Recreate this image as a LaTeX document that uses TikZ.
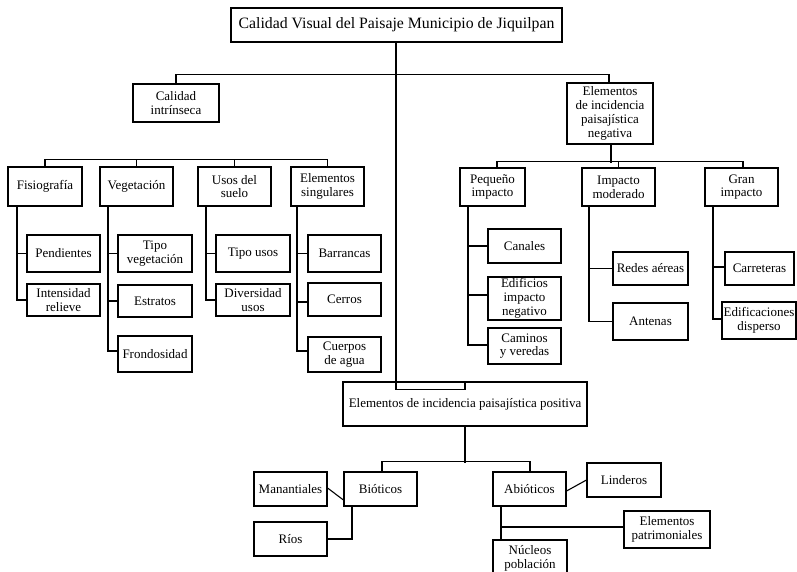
\documentclass[tikz,border=0pt]{standalone}
\usepackage{fontspec}
\setmainfont{Liberation Serif}
\begin{document}
\begin{tikzpicture}[x=1pt,y=-1pt,
  box/.style={draw, line width=1.1pt, inner sep=0pt, align=center,
    font=\fontsize{13}{13.8}\selectfont},
  conn/.style={line width=1.1pt}]
\useasboundingbox (0,0) rectangle (797,572);
% nodes
\node[box, minimum width=331pt, minimum height=34pt, font=\fontsize{15.8}{18}\selectfont] (title) at (396.5,25) {Calidad Visual del Paisaje Municipio de Jiquilpan};
\node[box, minimum width=86pt, minimum height=38pt] (ci) at (176,103) {Calidad\\intrínseca};
\node[box, minimum width=86pt, minimum height=61pt] (neg) at (610,113.5) {Elementos\\de incidencia\\paisajística\\negativa};
% left group
\node[box, minimum width=74pt, minimum height=39pt] (fis) at (45,186.5) {Fisiografía};
\node[box, minimum width=73pt, minimum height=39pt] (veg) at (136.5,186.5) {Vegetación};
\node[box, minimum width=73pt, minimum height=39pt] (usos) at (234.5,186.5) {Usos del\\suelo};
\node[box, minimum width=73pt, minimum height=39pt] (esing) at (327.5,186.5) {Elementos\\singulares};
\node[box, minimum width=73pt, minimum height=37pt] (pend) at (63.5,253.5) {Pendientes};
\node[box, minimum width=73pt, minimum height=32pt] (intens) at (63.5,300) {Intensidad\\relieve};
\node[box, minimum width=74pt, minimum height=37pt] (tveg) at (155,253.5) {Tipo\\vegetación};
\node[box, minimum width=74pt, minimum height=32pt] (estr) at (155,301) {Estratos};
\node[box, minimum width=74pt, minimum height=36pt] (frond) at (155,354) {Frondosidad};
\node[box, minimum width=74pt, minimum height=37pt] (tusos) at (253,253.5) {Tipo usos};
\node[box, minimum width=74pt, minimum height=32pt] (divus) at (253,300) {Diversidad\\usos};
\node[box, minimum width=73pt, minimum height=37pt] (barr) at (344.5,253.5) {Barrancas};
\node[box, minimum width=73pt, minimum height=33pt] (cerr) at (344.5,299.5) {Cerros};
\node[box, minimum width=73pt, minimum height=35pt] (cuerp) at (344.5,354.5) {Cuerpos\\de agua};
% right group
\node[box, minimum width=65pt, minimum height=38pt] (peq) at (492.5,187) {Pequeño\\impacto};
\node[box, minimum width=73pt, minimum height=38pt] (mod) at (618.5,187) {Impacto\\moderado};
\node[box, minimum width=73pt, minimum height=38pt] (gran) at (741.5,187) {Gran\\impacto};
\node[box, minimum width=73pt, minimum height=34pt] (can) at (524.5,246) {Canales};
\node[box, minimum width=73pt, minimum height=43pt] (edif) at (524.5,298.5) {Edificios\\impacto\\negativo};
\node[box, minimum width=73pt, minimum height=36pt] (cam) at (524.5,346) {Caminos\\y veredas};
\node[box, minimum width=75pt, minimum height=33pt] (redes) at (650.5,268.5) {Redes aéreas};
\node[box, minimum width=75pt, minimum height=37pt] (ant) at (650.5,321.5) {Antenas};
\node[box, minimum width=69pt, minimum height=33pt] (carr) at (759.5,268.5) {Carreteras};
\node[box, minimum width=74pt, minimum height=37pt] (edifd) at (759,320.5) {Edificaciones\\disperso};
% bottom group
\node[box, minimum width=244pt, minimum height=44pt] (pos) at (465,404) {Elementos de incidencia paisajística positiva};
\node[box, minimum width=73pt, minimum height=34pt] (bio) at (380.5,489) {Bióticos};
\node[box, minimum width=73pt, minimum height=34pt] (abio) at (529.5,489) {Abióticos};
\node[box, minimum width=73pt, minimum height=34pt] (man) at (290.5,489) {Manantiales};
\node[box, minimum width=73pt, minimum height=34pt] (rios) at (290.5,539) {Ríos};
\node[box, minimum width=74pt, minimum height=34pt] (lind) at (624,480) {Linderos};
\node[box, minimum width=86pt, minimum height=37pt] (epat) at (667,529.5) {Elementos\\patrimoniales};
\node[box, minimum width=74pt, minimum height=36pt] (nuc) at (530,558) {Núcleos\\población};
% connectors
\draw[conn] ([xshift=-0.5pt]title.south) |- ([yshift=-8pt]pos.north) -- (pos.north);
\draw[conn] (ci.north) -- ++(0,-9) -| ([xshift=-1pt]neg.north);
\draw[conn] (fis.north) -- ++(0,-7) -| (esing.north);
\draw[conn] (veg.north) -- ++(0,-7);
\draw[conn] (usos.north) -- ++(0,-7);
\draw[conn] ([xshift=-28pt]fis.south) |- (pend.west);
\draw[conn] ([xshift=-28pt]fis.south) |- (intens.west);
\draw[conn] ([xshift=-28.5pt]veg.south) |- (tveg.west);
\draw[conn] ([xshift=-28.5pt]veg.south) |- (estr.west);
\draw[conn] ([xshift=-28.5pt]veg.south) |- ([yshift=3pt]frond.west);
\draw[conn] ([xshift=-28.5pt]usos.south) |- (tusos.west);
\draw[conn] ([xshift=-28.5pt]usos.south) |- (divus.west);
\draw[conn] ([xshift=-30.5pt]esing.south) |- (barr.west);
\draw[conn] ([xshift=-30.5pt]esing.south) |- ([yshift=-2.5pt]cerr.west);
\draw[conn] ([xshift=-30.5pt]esing.south) |- ([yshift=3.5pt]cuerp.west);
\draw[conn] ([xshift=1pt]neg.south) -- ++(0,18);
\draw[conn] ([xshift=4.5pt]peq.north) -- ++(0,-6) -| ([xshift=1.5pt]gran.north);
\draw[conn] (mod.north) -- ++(0,-6);
\draw[conn] ([xshift=-24.5pt]peq.south) |- (can.west);
\draw[conn] ([xshift=-24.5pt]peq.south) |- ([yshift=3.5pt]edif.west);
\draw[conn] ([xshift=-24.5pt]peq.south) |- ([yshift=1pt]cam.west);
\draw[conn] ([xshift=-29.5pt]mod.south) |- (redes.west);
\draw[conn] ([xshift=-29.5pt]mod.south) |- (ant.west);
\draw[conn] ([xshift=-28.5pt]gran.south) |- ([yshift=1.5pt]carr.west);
\draw[conn] ([xshift=-28.5pt]gran.south) |- ([yshift=1.5pt]edifd.west);
\draw[conn] (pos.south) -- ++(0,36);
\draw[conn] ([xshift=1.5pt]bio.north) -- ++(0,-10) -| ([xshift=0.5pt]abio.north);
\draw[conn] ([yshift=1pt]man.east) -- ([yshift=-11pt]bio.west);
\draw[conn] (rios.east) -| ([xshift=-28.5pt]bio.south);
\draw[conn] ([yshift=-2pt]abio.east) -- (lind.west);
\draw[conn] ([xshift=-28.5pt]abio.south) -- ([xshift=-29pt]nuc.north);
\draw[conn] ([xshift=-28.5pt]abio.south) |- ([yshift=2.5pt]epat.west);
\end{tikzpicture}
\end{document}
